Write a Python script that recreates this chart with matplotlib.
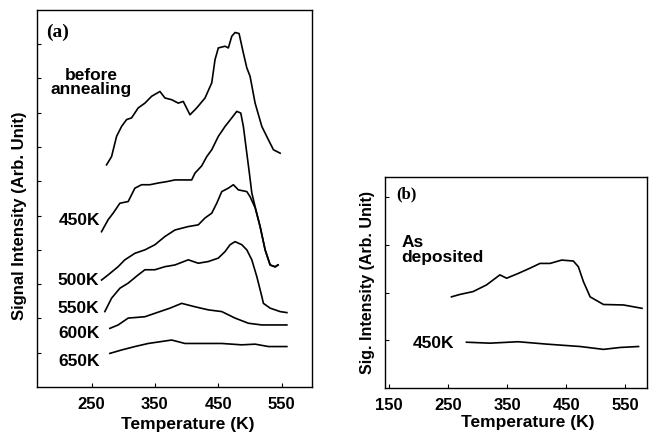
import matplotlib.pyplot as plt

plt.rcParams["font.family"] = ["Liberation Sans", "DejaVu Sans"]
plt.rcParams["font.weight"] = "bold"

# ---- panel (a): spectra after annealing, offset vertically (arb. units)
temp_before = [273.7, 281.6, 289.5, 297.4, 305.3, 313.2, 323.6, 334.2, 344.8, 357.9,
               365.8, 376.4, 386.8, 394.7, 405.3, 415.9, 429.0, 439.6, 444.8, 450.0,
               460.6, 465.8, 471.2, 476.4, 482.7, 489.5, 494.9, 500.1, 508.0, 518.6,
               529.0, 536.9, 547.5]
sig_before = [6.48, 6.72, 7.31, 7.60, 7.80, 7.85, 8.14, 8.28, 8.48, 8.62,
              8.43, 8.38, 8.28, 8.33, 7.94, 8.14, 8.43, 8.87, 9.55, 9.89,
              9.94, 9.89, 10.23, 10.34, 10.31, 9.74, 9.31, 9.06, 8.28, 7.60,
              7.21, 6.92, 6.82]

temp_450 = [265.8, 276.2, 284.1, 294.7, 307.8, 318.4, 329.0, 342.1, 355.2, 368.5,
            381.6, 394.7, 408.0, 413.2, 423.8, 431.7, 439.6, 450.0, 460.6, 471.2,
            479.1, 485.4, 489.5, 494.9, 499.3, 502.8, 508.0, 515.9, 523.8, 531.7,
            539.6, 543.8]
sig_450 = [4.53, 4.88, 5.07, 5.36, 5.41, 5.80, 5.90, 5.90, 5.95, 5.99,
           6.04, 6.04, 6.04, 6.24, 6.45, 6.72, 6.92, 7.31, 7.60, 7.85,
           8.04, 7.99, 7.60, 6.82, 6.19, 5.66, 5.26, 4.68, 4.00, 3.56,
           3.51, 3.56]

temp_500 = [265.8, 276.2, 292.0, 302.6, 318.4, 334.2, 350.0, 365.8, 381.6, 402.6,
            418.4, 429.0, 439.6, 447.5, 455.4, 465.8, 473.7, 481.6, 494.9, 500.1,
            508.0, 515.9, 523.8, 531.7, 539.6, 544.3]
sig_500 = [3.12, 3.27, 3.51, 3.71, 3.90, 4.00, 4.15, 4.39, 4.58, 4.68,
           4.73, 4.93, 5.07, 5.36, 5.70, 5.80, 5.90, 5.75, 5.70, 5.55,
           5.23, 4.68, 4.00, 3.56, 3.50, 3.56]

temp_550 = [271.0, 281.6, 294.7, 307.8, 323.6, 334.2, 350.0, 365.8, 381.6, 402.6,
            418.4, 434.2, 450.0, 460.6, 468.5, 476.4, 487.0, 494.9, 502.8, 510.7,
            518.6, 521.1, 531.7, 547.5, 558.1]
sig_550 = [2.20, 2.59, 2.88, 3.03, 3.27, 3.42, 3.42, 3.51, 3.56, 3.71,
           3.61, 3.66, 3.76, 3.95, 4.15, 4.24, 4.15, 4.00, 3.71, 3.22,
           2.64, 2.44, 2.30, 2.20, 2.17]

temp_600 = [278.9, 292.0, 307.8, 334.2, 350.0, 365.8, 373.7, 392.2, 413.2, 434.2,
            455.4, 476.4, 497.4, 518.6, 539.6, 558.1]
sig_600 = [1.71, 1.81, 2.01, 2.05, 2.15, 2.25, 2.30, 2.44, 2.34, 2.25,
           2.20, 2.01, 1.86, 1.81, 1.81, 1.81]

temp_650 = [278.9, 297.4, 318.4, 339.5, 376.4, 397.4, 423.8, 455.4, 487.0, 508.0,
            529.0, 558.1]
sig_650 = [0.98, 1.08, 1.18, 1.27, 1.37, 1.27, 1.27, 1.27, 1.23, 1.25,
           1.18, 1.18]

# ---- panel (b)
temp_dep = [255.8, 269.9, 292.4, 315.2, 337.8, 349.2, 368.8, 388.7, 405.7, 422.7,
            442.5, 462.2, 470.7, 479.2, 490.6, 513.2, 547.1, 578.4]
sig_dep = [1.91, 1.96, 2.02, 2.16, 2.37, 2.30, 2.40, 2.51, 2.61, 2.61,
           2.68, 2.66, 2.54, 2.23, 1.91, 1.75, 1.74, 1.67]

temp_b450 = [281.2, 320.8, 368.8, 417.1, 473.6, 513.2, 541.5, 572.6]
sig_b450 = [0.96, 0.94, 0.97, 0.92, 0.87, 0.81, 0.85, 0.87]

ticks_a = [250, 350, 450, 550]
ticks_b = [150, 250, 350, 450, 550]

fig = plt.figure(figsize=(6.49, 4.37), dpi=100)
ax_a = fig.add_axes([0.057, 0.1144, 0.424, 0.863])
ax_b = fig.add_axes([0.593, 0.112, 0.404, 0.483])

lw = 1.2
for t, s in [(temp_before, sig_before), (temp_450, sig_450), (temp_500, sig_500),
             (temp_550, sig_550), (temp_600, sig_600), (temp_650, sig_650)]:
    ax_a.plot(t, s, color="black", lw=lw)
for t, s in [(temp_dep, sig_dep), (temp_b450, sig_b450)]:
    ax_b.plot(t, s, color="black", lw=lw)

for ax in (ax_a, ax_b):
    ax.tick_params(direction="in", length=3, width=0.8, labelsize=12, pad=7)
    ax.tick_params(axis="y", labelleft=False)
    for sp in ax.spines.values():
        sp.set_linewidth(1.0)

ax_a.set_xlim(164, 598)
ax_a.set_ylim(0, 11)
ax_a.set_xticks(ticks_a)
ax_a.set_yticks(range(1, 11))
ax_a.set_xlabel("Temperature (K)", fontsize=12.5, fontweight="bold")
ax_a.set_ylabel("Signal Intensity (Arb. Unit)", fontsize=12, fontweight="bold")
ax_a.xaxis.set_label_coords(0.547, -0.08)
ax_a.yaxis.set_label_coords(-0.035, 0.455)

ax_b.set_xlim(143, 587)
ax_b.set_ylim(0, 4.42)
ax_b.set_xticks(ticks_b)
ax_b.set_yticks([1, 2, 3, 4])
ax_b.set_xlabel("Temperature (K)", fontsize=12.5, fontweight="bold")
ax_b.set_ylabel("Sig. Intensity (Arb. Unit)", fontsize=11.5, fontweight="bold")
ax_b.xaxis.set_label_coords(0.544, -0.128)
ax_b.yaxis.set_label_coords(-0.038, 0.5)

# annotations
kw = dict(fontsize=12.5, fontweight="bold", va="center")
ax_a.text(178.9, 10.35, "(a)", family="Liberation Serif", fontsize=14,
          fontweight="bold", va="center")
ax_a.text(249, 8.88, "before\nannealing", ha="center", multialignment="center",
          linespacing=0.9, **kw)
ax_a.text(199, 4.85, "450K", **kw)
ax_a.text(197, 3.12, "500K", **kw)
ax_a.text(197, 2.30, "550K", **kw)
ax_a.text(197, 1.57, "600K", **kw)
ax_a.text(197, 0.74, "650K", **kw)

ax_b.text(162.4, 4.05, "(b)", family="Liberation Serif", fontsize=12,
          fontweight="bold", va="center")
ax_b.text(170.9, 2.89, "As\ndeposited", multialignment="left",
          linespacing=0.95, **kw)
ax_b.text(190.6, 0.94, "450K", **kw)

fig.savefig("out.png", dpi=100)
